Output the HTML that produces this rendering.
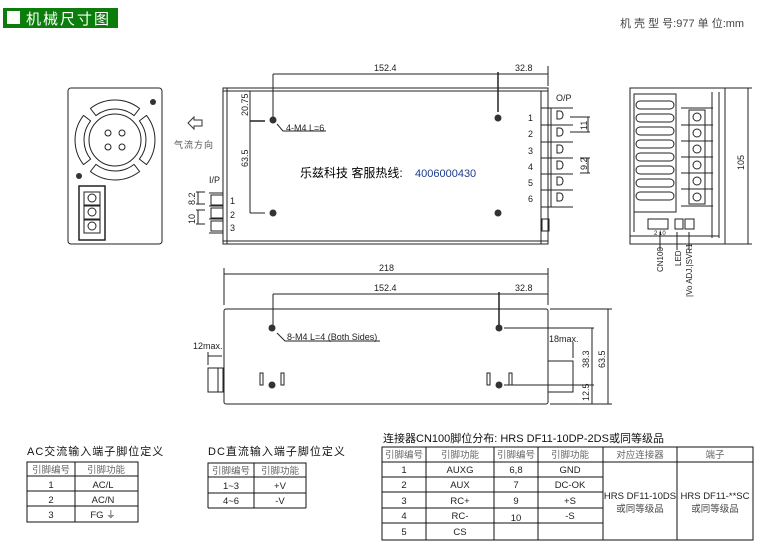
<!DOCTYPE html>
<html><head><meta charset="utf-8"><style>
html,body{margin:0;padding:0;background:#fff;}
svg{display:block;font-family:"Liberation Sans","Noto Sans CJK SC",sans-serif;}
</style></head><body>
<svg width="782" height="557" viewBox="0 0 782 557" xmlns="http://www.w3.org/2000/svg">
<g>
<rect x="3" y="8" width="115" height="20" fill="#0a7d0a"/>
<rect x="7" y="11" width="13" height="13" fill="#fff"/>
<text x="26" y="24" font-size="15" fill="#fff" letter-spacing="2">机械尺寸图</text>
<text x="620" y="27" font-size="11" fill="#444">机 壳 型 号:977  单 位:mm</text>
</g>

<g fill="none" stroke="#222" stroke-width="1">
<!-- left fan view -->
<rect x="68" y="88" width="94" height="156" rx="3"/>
<g stroke-linejoin="round">
<path id="slot" d="M90.4,108.5 A40,40 0 0 1 139.6,108.5 L134.1,115.6 A31,31 0 0 0 95.9,115.6 Z"/>
<path d="M90.4,108.5 A40,40 0 0 1 139.6,108.5 L134.1,115.6 A31,31 0 0 0 95.9,115.6 Z" transform="rotate(90 115 140)"/>
<path d="M90.4,108.5 A40,40 0 0 1 139.6,108.5 L134.1,115.6 A31,31 0 0 0 95.9,115.6 Z" transform="rotate(180 115 140)"/>
<path d="M90.4,108.5 A40,40 0 0 1 139.6,108.5 L134.1,115.6 A31,31 0 0 0 95.9,115.6 Z" transform="rotate(270 115 140)"/>
</g>
<circle cx="115" cy="140" r="26"/>
<circle cx="108" cy="133" r="3"/><circle cx="122" cy="133" r="3"/>
<circle cx="108" cy="147" r="3"/><circle cx="122" cy="147" r="3"/>
<rect x="79" y="186" width="26" height="54" stroke-width="1.5"/>
<rect x="84" y="192" width="16" height="13"/><rect x="84" y="206" width="16" height="13"/><rect x="84" y="220" width="16" height="13"/>
<circle cx="92" cy="198" r="4"/><circle cx="92" cy="212" r="4"/><circle cx="92" cy="226" r="4"/>
</g>
<circle cx="153" cy="102" r="3" fill="#333"/><circle cx="79" cy="176" r="3" fill="#333"/>
<path d="M188,123 l6,-6 v3 h8 v6 h-8 v3 z" fill="none" stroke="#333"/>
<text x="174" y="148" font-size="9" fill="#555" letter-spacing="1">气流方向</text>

<!-- top view -->
<g fill="none" stroke="#222">
<rect x="223" y="88" width="325" height="156"/>
<line x1="223" y1="91" x2="548" y2="91"/>
<line x1="227" y1="88" x2="227" y2="244"/>
<line x1="223" y1="241" x2="548" y2="241"/>
<line x1="541" y1="91" x2="541" y2="244"/>
<line x1="273" y1="74" x2="548" y2="74"/>
<line x1="273" y1="74" x2="273" y2="120"/>
<line x1="498" y1="72" x2="498" y2="112" stroke-width="1.5"/>
<line x1="548" y1="66" x2="548" y2="86"/>
<line x1="250" y1="91" x2="250" y2="213"/>
<line x1="250" y1="121" x2="265" y2="121" stroke-width="1.5"/>
<line x1="250" y1="213" x2="265" y2="213"/>
<path d="M277,124 l6,7 h43"/>
<g>
<line x1="541" y1="108" x2="573" y2="108"/><line x1="541" y1="125" x2="573" y2="125"/>
<line x1="541" y1="142" x2="573" y2="142"/><line x1="541" y1="158" x2="573" y2="158"/>
<line x1="541" y1="174" x2="573" y2="174"/><line x1="541" y1="190" x2="573" y2="190"/>
<line x1="541" y1="207" x2="573" y2="207"/>
<line x1="551" y1="108" x2="551" y2="207"/>
<path d="M557,111 h3 a3,4 0 0 1 0,8 h-3 z"/><path d="M557,128 h3 a3,4 0 0 1 0,8 h-3 z"/>
<path d="M557,145 h3 a3,4 0 0 1 0,8 h-3 z"/><path d="M557,161 h3 a3,4 0 0 1 0,8 h-3 z"/>
<path d="M557,177 h3 a3,4 0 0 1 0,8 h-3 z"/><path d="M557,193 h3 a3,4 0 0 1 0,8 h-3 z"/>
<rect x="542" y="219" width="7" height="12"/>
<line x1="570" y1="117" x2="590" y2="117"/><line x1="570" y1="132" x2="590" y2="132"/>
<line x1="588" y1="117" x2="588" y2="132"/>
<line x1="580" y1="158" x2="590" y2="158"/><line x1="580" y1="173" x2="590" y2="173"/>
<line x1="588" y1="158" x2="588" y2="173"/>
</g>
<rect x="211" y="195" width="12" height="10"/><rect x="211" y="208" width="12" height="10"/><rect x="211" y="221" width="12" height="10"/>
<line x1="209" y1="193" x2="223" y2="193"/><line x1="209" y1="206" x2="223" y2="206"/><line x1="209" y1="219" x2="223" y2="219"/><line x1="209" y1="233" x2="223" y2="233"/>
<line x1="196" y1="192" x2="205" y2="192"/><line x1="196" y1="204" x2="205" y2="204"/><line x1="198" y1="192" x2="198" y2="204"/>
<line x1="196" y1="210" x2="205" y2="210"/><line x1="196" y1="224" x2="205" y2="224"/><line x1="198" y1="210" x2="198" y2="224"/>
</g>
<g fill="#333"><circle cx="273" cy="120" r="3.5"/><circle cx="498" cy="118" r="3.5"/><circle cx="273" cy="213" r="3.5"/><circle cx="498" cy="213" r="3.5"/></g>
<g font-size="9" fill="#222">
<text x="374" y="71">152.4</text><text x="515" y="71">32.8</text>
<text x="286" y="131">4-M4 L=6</text>
<text transform="translate(248,116) rotate(-90)">20.75</text>
<text transform="translate(248,167) rotate(-90)">63.5</text>
<text x="556" y="101">O/P</text>
<text x="528" y="121">1</text><text x="528" y="137">2</text><text x="528" y="154">3</text><text x="528" y="170">4</text><text x="528" y="186">5</text><text x="528" y="202">6</text>
<text transform="translate(587,130) rotate(-90)">11</text>
<text transform="translate(587,170) rotate(-90)">9.2</text>
<text x="209" y="183">I/P</text>
<text x="230" y="204">1</text><text x="230" y="218">2</text><text x="230" y="231">3</text>
<text transform="translate(195,205) rotate(-90)">8.2</text>
<text transform="translate(195,224) rotate(-90)">10</text>
</g>
<text x="300" y="177" font-size="12" fill="#000">乐兹科技 客服热线:</text>
<text x="415" y="177" font-size="11" fill="#1a3a8a">4006000430</text>

<!-- right view -->
<g fill="none" stroke="#222">
<rect x="630" y="88" width="95" height="156"/>
<path d="M634,232 V94 h42 v118 h-42"/>
<rect x="636" y="101" width="38" height="8" rx="4"/><rect x="636" y="114" width="38" height="8" rx="4"/>
<rect x="636" y="127" width="38" height="8" rx="4"/><rect x="636" y="140" width="38" height="8" rx="4"/>
<rect x="636" y="153" width="38" height="8" rx="4"/><rect x="636" y="166" width="38" height="8" rx="4"/>
<rect x="636" y="179" width="38" height="8" rx="4"/><rect x="636" y="192" width="38" height="8" rx="4"/>
<line x1="681" y1="108" x2="713" y2="108"/><line x1="681" y1="125" x2="713" y2="125"/>
<line x1="681" y1="141" x2="713" y2="141"/><line x1="681" y1="157" x2="713" y2="157"/>
<line x1="681" y1="173" x2="713" y2="173"/><line x1="681" y1="189" x2="713" y2="189"/>
<line x1="681" y1="206" x2="713" y2="206"/>
<rect x="689" y="110" width="16" height="94"/>
<line x1="712" y1="92" x2="712" y2="238"/><line x1="719" y1="92" x2="719" y2="238"/>
<line x1="630" y1="236" x2="719" y2="236"/>
<rect x="648" y="219" width="20" height="10"/><rect x="675" y="219" width="8" height="10"/><rect x="685" y="219" width="9" height="10"/>
<line x1="660" y1="232" x2="660" y2="250"/><line x1="677" y1="232" x2="677" y2="250"/><line x1="689" y1="232" x2="689" y2="250"/>
<line x1="725" y1="88" x2="752" y2="88"/><line x1="725" y1="244" x2="752" y2="244"/>
<line x1="748" y1="88" x2="748" y2="244"/>
</g>
<g fill="none" stroke="#222">
<circle cx="697" cy="117" r="4"/><circle cx="697" cy="133" r="4"/><circle cx="697" cy="149" r="4"/>
<circle cx="697" cy="165" r="4"/><circle cx="697" cy="181" r="4"/><circle cx="697" cy="197" r="4"/>
</g>
<g font-size="8" fill="#222">
<text transform="translate(744,170) rotate(-90)" font-size="9">105</text>
<text transform="translate(663,272) rotate(-90)">CN100</text>
<text transform="translate(681,266) rotate(-90)">LED</text>
<text transform="translate(692,297) rotate(-90)">|Vo ADJ.|SVR1</text>
<text x="654" y="235" font-size="6">2  10</text>
</g>

<!-- side view -->
<g fill="none" stroke="#222">
<rect x="224" y="309" width="324" height="95" rx="2"/>
<line x1="224" y1="274" x2="548" y2="274"/>
<line x1="224" y1="268" x2="224" y2="305"/><line x1="548" y1="268" x2="548" y2="305"/>
<line x1="273" y1="294" x2="548" y2="294"/>
<line x1="273" y1="294" x2="273" y2="328"/>
<line x1="499" y1="292" x2="499" y2="328" stroke-width="1.5"/>
<path d="M277,333 l8,8 h95"/>
<rect x="260" y="373" width="3" height="12"/><rect x="281" y="373" width="3" height="12"/>
<rect x="487" y="373" width="3" height="12"/><rect x="509" y="373" width="3" height="12"/>
<rect x="208" y="368" width="15" height="24"/><line x1="218" y1="368" x2="218" y2="392"/>
<line x1="208" y1="352" x2="208" y2="365"/><line x1="208" y1="356" x2="222" y2="356"/>
<rect x="548" y="361" width="25" height="31"/>
<line x1="573" y1="342" x2="573" y2="358"/>
<line x1="504" y1="328" x2="594" y2="328"/><line x1="504" y1="385" x2="594" y2="385"/>
<line x1="592" y1="328" x2="592" y2="404"/>
<line x1="550" y1="309" x2="612" y2="309"/><line x1="550" y1="404" x2="612" y2="404"/>
<line x1="608" y1="309" x2="608" y2="404"/>
</g>
<g fill="#333"><circle cx="272" cy="328" r="3.5"/><circle cx="499" cy="328" r="3.5"/><circle cx="272" cy="385" r="3.5"/><circle cx="499" cy="385" r="3.5"/></g>
<g font-size="9" fill="#222">
<text x="379" y="271">218</text>
<text x="374" y="291">152.4</text><text x="515" y="291">32.8</text>
<text x="287" y="340">8-M4 L=4 (Both Sides)</text>
<text x="193" y="349">12max.</text>
<text x="549" y="342">18max.</text>
<text transform="translate(589,368) rotate(-90)">38.3</text>
<text transform="translate(589,401) rotate(-90)">12.5</text>
<text transform="translate(605,368) rotate(-90)">63.5</text>
</g>

<!-- AC table -->
<text x="27" y="455" font-size="11" fill="#111" letter-spacing="1">AC交流输入端子脚位定义</text>
<g fill="none" stroke="#111">
<rect x="27" y="462" width="111" height="60"/>
<line x1="27" y1="476" x2="138" y2="476"/><line x1="27" y1="491" x2="138" y2="491"/><line x1="27" y1="506" x2="138" y2="506"/>
<line x1="75" y1="462" x2="75" y2="522"/>
</g>
<g font-size="9.5" fill="#222" text-anchor="middle">
<text x="51" y="473" fill="#666">引脚编号</text><text x="106" y="473" fill="#666">引脚功能</text>
<text x="51" y="488">1</text><text x="103" y="488">AC/L</text>
<text x="51" y="503">2</text><text x="103" y="503">AC/N</text>
<text x="51" y="518">3</text><text x="103" y="518">FG ⏚</text>
</g>
<!-- DC table -->
<text x="208" y="455" font-size="11" fill="#111" letter-spacing="1">DC直流输入端子脚位定义</text>
<g fill="none" stroke="#111">
<rect x="208" y="463" width="98" height="30"/>
<line x1="208" y1="477" x2="306" y2="477"/>
<line x1="254" y1="463" x2="254" y2="493"/>
</g>
<g font-size="9.5" fill="#222" text-anchor="middle">
<text x="231" y="474" fill="#666">引脚编号</text><text x="280" y="474" fill="#666">引脚功能</text>
<text x="231" y="489">1~3</text><text x="280" y="489">+V</text>
</g>
<text x="231" y="504" font-size="9.5" fill="#222" text-anchor="middle">4~6</text>
<text x="280" y="504" font-size="9.5" fill="#222" text-anchor="middle">-V</text>
<g fill="none" stroke="#111"><line x1="208" y1="493" x2="208" y2="508"/><line x1="254" y1="493" x2="254" y2="508"/><line x1="306" y1="493" x2="306" y2="508"/><line x1="208" y1="508" x2="306" y2="508"/></g>

<!-- CN100 table -->
<text x="383" y="442" font-size="11" fill="#111">连接器CN100脚位分布: HRS DF11-10DP-2DS或同等级品</text>
<g fill="none" stroke="#111">
<rect x="382" y="447" width="371" height="93"/>
<line x1="382" y1="462" x2="753" y2="462"/>
<line x1="382" y1="477" x2="603" y2="477"/><line x1="382" y1="492" x2="603" y2="492"/>
<line x1="382" y1="508" x2="603" y2="508"/><line x1="382" y1="523" x2="603" y2="523"/>
<line x1="426" y1="447" x2="426" y2="540"/><line x1="494" y1="447" x2="494" y2="540"/>
<line x1="538" y1="447" x2="538" y2="540"/><line x1="603" y1="447" x2="603" y2="540"/>
<line x1="677" y1="447" x2="677" y2="540"/>
</g>
<g font-size="9.5" fill="#222" text-anchor="middle">
<text x="404" y="458" fill="#666">引脚编号</text><text x="460" y="458" fill="#666">引脚功能</text>
<text x="516" y="458" fill="#666">引脚编号</text><text x="570" y="458" fill="#666">引脚功能</text>
<text x="640" y="458" fill="#666">对应连接器</text><text x="715" y="458" fill="#666">端子</text>
<text x="404" y="473">1</text><text x="460" y="473">AUXG</text><text x="516" y="473">6,8</text><text x="570" y="473">GND</text>
<text x="404" y="488">2</text><text x="460" y="488">AUX</text><text x="516" y="488">7</text><text x="570" y="488">DC-OK</text>
<text x="404" y="504">3</text><text x="460" y="504">RC+</text><text x="516" y="504">9</text><text x="570" y="504">+S</text>
<text x="404" y="519">4</text><text x="460" y="519">RC-</text><text x="516" y="521">10</text><text x="570" y="519">-S</text>
<text x="404" y="535">5</text><text x="460" y="535">CS</text>
<text x="640" y="499">HRS DF11-10DS</text><text x="640" y="512" fill="#444">或同等级品</text>
<text x="715" y="499">HRS DF11-**SC</text><text x="715" y="512" fill="#444">或同等级品</text>
</g>
</svg>
</body></html>
